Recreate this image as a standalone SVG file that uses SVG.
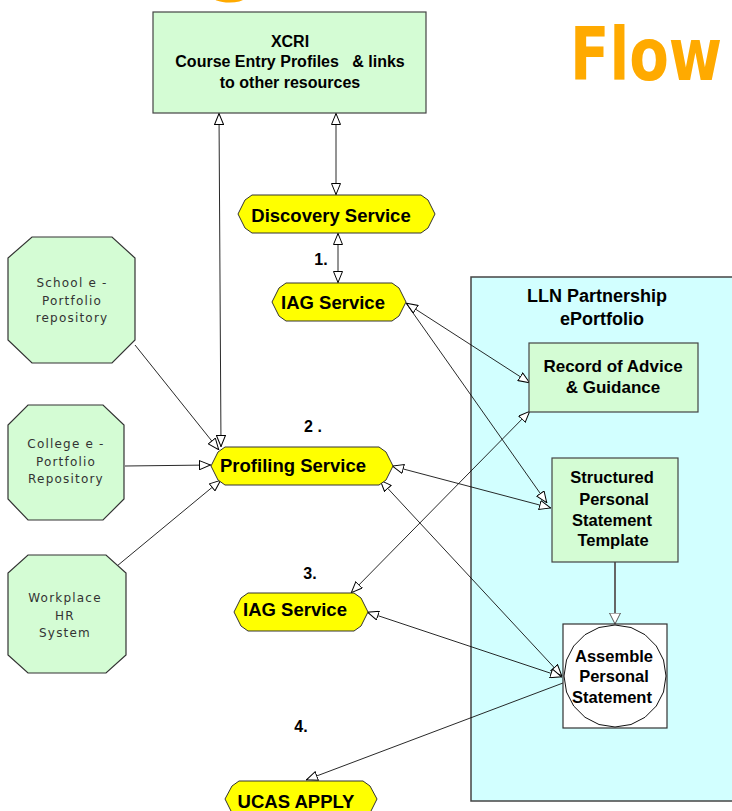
<svg xmlns="http://www.w3.org/2000/svg" width="732" height="811" viewBox="0 0 732 811">
<style>
.b{font-family:"Liberation Sans",Arial,sans-serif;font-weight:bold;fill:#000;text-anchor:middle}
.s{font-family:"DejaVu Sans",Verdana,sans-serif;font-size:12px;letter-spacing:1.2px;fill:#333;text-anchor:middle}
.y{fill:#ffff00;stroke:#333;stroke-width:1}
.g{fill:#d4fcd4;stroke:#444;stroke-width:1.2}
.oct{fill:#d4fcd4;stroke:#333;stroke-width:1.2}
.c{fill:none;stroke:#111;stroke-width:0.9}
</style>
<defs>
<marker id="a" viewBox="0 0 12 10" refX="12" refY="5" markerWidth="12" markerHeight="10" markerUnits="userSpaceOnUse" orient="auto-start-reverse">
<path d="M0.5,0.5 L11.5,5 L0.5,9.5 z" fill="#fff" stroke="#000" stroke-width="1"/>
</marker>
<marker id="ag" viewBox="0 0 12 12" refX="11.5" refY="6" markerWidth="12" markerHeight="12" markerUnits="userSpaceOnUse" orient="auto">
<path d="M0.5,0.5 L11.5,6 L0.5,11.5 z" fill="#fff" stroke="#555" stroke-width="1"/>
</marker>
</defs>
<rect width="732" height="811" fill="#fff"/>
<text x="233" y="-12" font-family="DejaVu Sans,sans-serif" font-weight="bold" font-size="70" fill="#ffaa00" text-anchor="middle">g</text>
<text transform="translate(570,80) scale(0.79,1)" x="0" y="0" font-family="DejaVu Sans,Verdana,sans-serif" font-weight="bold" font-size="73" fill="#ffaa00">Flow</text>

<g id="lln">
<rect x="471" y="277" width="275" height="524" fill="#d2ffff" stroke="#444" stroke-width="1.5"/>
<text class="b" x="597" y="302" font-size="18">LLN Partnership</text>
<text class="b" x="602" y="325" font-size="18">ePortfolio</text>
</g>

<g id="connectors">
<path class="c" d="M219,113 L221,447" marker-start="url(#a)" marker-end="url(#a)"/>
<path class="c" d="M336,113 L336,195" marker-start="url(#a)" marker-end="url(#a)"/>
<path class="c" d="M338,233 L338,283" marker-start="url(#a)" marker-end="url(#a)"/>
<path class="c" d="M406,303 L530,383" marker-start="url(#a)" marker-end="url(#a)"/>
<path class="c" d="M406,303 L547,503" marker-end="url(#a)"/>
<path class="c" d="M530,411 L351,593" marker-start="url(#a)" marker-end="url(#a)"/>
<path class="c" d="M392,466 L551,508" marker-start="url(#a)" marker-end="url(#a)"/>
<path class="c" d="M380,480 L562,676" marker-start="url(#a)" marker-end="url(#a)"/>
<path class="c" d="M367,612 L562,677" marker-start="url(#a)" marker-end="url(#a)"/>
<path class="c" d="M563,683 L306,780" marker-end="url(#a)"/>
<path d="M615,562 L615,624" stroke="#666" stroke-width="2" fill="none" marker-end="url(#ag)"/>
<path class="c" d="M135,345 L219,450" marker-end="url(#a)"/>
<path class="c" d="M125,466 L211,465" marker-end="url(#a)"/>
<path class="c" d="M117,566 L221,480" marker-end="url(#a)"/>
</g>

<g id="xcri">
<rect class="g" x="153" y="12" width="273" height="101"/>
<text class="b" x="290" y="47" font-size="16">XCRI</text>
<text class="b" x="290" y="67" font-size="16" xml:space="preserve">Course Entry Profiles   &amp; links</text>
<text class="b" x="290" y="88" font-size="16">to other resources</text>
</g>

<g id="discovery">
<polygon class="y" points="238,214 245,200 252,195 421,195 428,200 435,214 428,228 421,233 252,233 245,228"/>
<text class="b" x="331" y="222" font-size="18.5">Discovery Service</text>
</g>

<g id="iag1">
<polygon class="y" points="272,302 279,288 286,283 392,283 399,288 406,302 399,316 392,321 286,321 279,316"/>
<text class="b" x="333" y="309" font-size="18.5">IAG Service</text>
</g>
<text class="b" x="321" y="265" font-size="16">1.</text>

<g id="profiling">
<polygon class="y" points="211,466 218,452 225,447 379,447 386,452 393,466 386,480 379,485 225,485 218,480"/>
<text class="b" x="293" y="472" font-size="18.5">Profiling Service</text>
</g>
<text class="b" x="313" y="432" font-size="16" xml:space="preserve">2 .</text>

<g id="iag2">
<polygon class="y" points="234,612 241,598 248,593 354,593 361,598 368,612 361,626 354,631 248,631 241,626"/>
<text class="b" x="295" y="616" font-size="18.5">IAG Service</text>
</g>
<text class="b" x="310" y="579" font-size="16">3.</text>

<g id="ucas">
<polygon class="y" points="225,799 232,786 239,781 363,781 370,786 377,799 370,813 363,818 239,818 232,813"/>
<text class="b" x="296" y="808" font-size="18.5">UCAS APPLY</text>
</g>
<text class="b" x="301" y="732" font-size="16">4.</text>

<g id="school">
<polygon class="oct" points="32,237 112,237 135,258 135,340 112,363 32,363 8,340 8,258"/>
<text class="s" x="72" y="287">School e -</text>
<text class="s" x="72" y="305">Portfolio</text>
<text class="s" x="72" y="322">repository</text>
</g>

<g id="college">
<polygon class="oct" points="28,405 103,405 124,425 124,499 103,520 28,520 8,499 8,425"/>
<text class="s" x="66" y="448">College e -</text>
<text class="s" x="66" y="466">Portfolio</text>
<text class="s" x="66" y="483">Repository</text>
</g>

<g id="workplace">
<polygon class="oct" points="28,555 106,555 126,573 126,655 106,673 28,673 8,655 8,573"/>
<text class="s" x="65" y="602">Workplace</text>
<text class="s" x="65" y="620">HR</text>
<text class="s" x="65" y="637">System</text>
</g>

<g id="record">
<rect class="g" x="529" y="343" width="169" height="69"/>
<text class="b" x="613" y="372" font-size="17">Record of Advice</text>
<text class="b" x="613" y="393" font-size="17">&amp; Guidance</text>
</g>

<g id="structured">
<rect class="g" x="552" y="458" width="126" height="104"/>
<text class="b" x="612" y="483" font-size="16.5">Structured</text>
<text class="b" x="614" y="505" font-size="16.5">Personal</text>
<text class="b" x="612" y="526" font-size="16.5">Statement</text>
<text class="b" x="613" y="546" font-size="16.5">Template</text>
</g>

<g id="assemble">
<rect x="563" y="624" width="104" height="104" fill="#fff" stroke="#333" stroke-width="1.2"/>
<polygon points="615,625 631,627.5 645,634.7 656.3,646 663.5,660 666,676 663.5,692 656.3,706 645,717.3 631,724.5 615,727 599,724.5 585,717.3 573.7,706 566.5,692 564,676 566.5,660 573.7,646 585,634.7 599,627.5" fill="#fff" stroke="#111" stroke-width="1"/>
<text class="b" x="614" y="662" font-size="16.5">Assemble</text>
<text class="b" x="614" y="682" font-size="16.5">Personal</text>
<text class="b" x="612" y="703" font-size="16.5">Statement</text>
</g>
</svg>
